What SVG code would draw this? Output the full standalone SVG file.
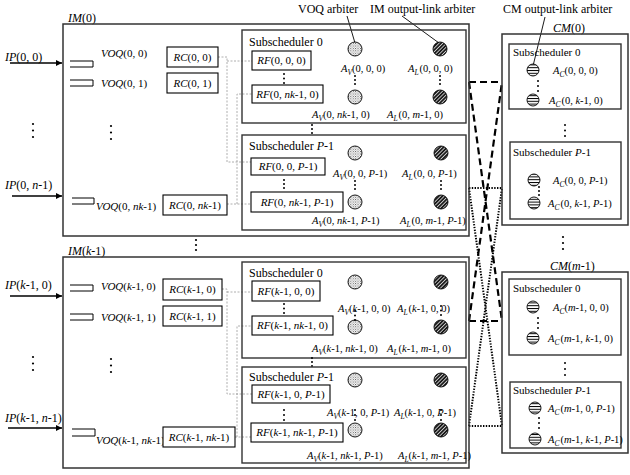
<svg xmlns="http://www.w3.org/2000/svg" width="630" height="475" viewBox="0 0 630 475">
<defs>
<style>
.t{font-family:"Liberation Serif",serif;font-size:12px;fill:#000}
.m{font-size:11px}
.a{font-size:10.5px}
.i{font-style:italic}
.sb{font-size:7.5px;font-style:italic}
.b{fill:none;stroke:#333;stroke-width:1.5}
.s{fill:none;stroke:#333;stroke-width:1.4}
.r{fill:#fff;stroke:#000;stroke-width:1.1}
.q{fill:none;stroke:#000;stroke-width:1}
.g{fill:none;stroke:#9a9a9a;stroke-width:0.8;stroke-dasharray:2 1.5}
.dash{fill:none;stroke:#000;stroke-width:2.2;stroke-dasharray:7 4}
.dot{fill:none;stroke:#000;stroke-width:2;stroke-dasharray:1.4 1.4}
.ar{stroke:#000;stroke-width:1.3}
.ld{stroke:#000;stroke-width:0.9}
.av{fill:url(#stip);stroke:#000;stroke-width:0.9}
.al{fill:url(#hatch);stroke:#000;stroke-width:0.9}
.ac{fill:url(#hstr);stroke:#000;stroke-width:0.9}
.e{fill:#000}
</style>
<pattern id="stip" width="2.4" height="2.4" patternUnits="userSpaceOnUse"><rect width="2.4" height="2.4" fill="#fff"/><rect width="0.9" height="0.9" fill="#444"/><rect x="1.2" y="1.2" width="0.9" height="0.9" fill="#777"/></pattern>
<pattern id="hatch" width="2.6" height="2.6" patternUnits="userSpaceOnUse" patternTransform="rotate(45)"><rect width="2.6" height="2.6" fill="#1a1a1a"/><rect width="0.8" height="2.6" fill="#ddd"/></pattern>
<pattern id="hstr" width="4" height="2.8" patternUnits="userSpaceOnUse"><rect width="4" height="2.8" fill="#fff"/><rect y="0" width="4" height="1" fill="#000"/></pattern>
<marker id="arr" viewBox="0 0 10 10" refX="10" refY="5" markerWidth="7" markerHeight="6" orient="auto" markerUnits="userSpaceOnUse"><path d="M0,0 L10,5 L0,10 z" fill="#000"/></marker>
</defs>
<rect width="630" height="475" fill="#fff"/>

<!-- top labels -->
<g id="labels">
<text class="t" x="298" y="13">VOQ arbiter</text>
<text class="t" x="370" y="13">IM output-link arbiter</text>
<text class="t" x="503" y="13">CM output-link arbiter</text>
<line class="ld" x1="347" y1="16" x2="355" y2="43"/>
<line class="ld" x1="402" y1="16" x2="439" y2="43"/>
<line class="ld" x1="545" y1="17" x2="533" y2="66"/>
</g>

<!-- connectors -->
<g id="connectors">
<line class="ar" x1="10" y1="63" x2="62" y2="63" marker-end="url(#arr)"/>
<line class="ar" x1="12" y1="196" x2="62" y2="196" marker-end="url(#arr)"/>
<line class="ar" x1="10" y1="296" x2="62" y2="296" marker-end="url(#arr)"/>
<line class="ar" x1="8" y1="428" x2="62" y2="428" marker-end="url(#arr)"/>
<path class="g" d="M218,57 H227 V162 H252 M227,61 H252"/>
<path class="g" d="M227,204 H251 M237,204 V94 H252"/>
<path class="g" d="M222,289 H227 V394 H252 M227,292 H252"/>
<path class="g" d="M235,437 H251 M237,437 V326 H252"/>
<path class="dash" d="M469,82 H502 M469,321 H502 M469,82 L502,321 M469,321 L502,82"/>
<path class="dot" d="M469,188 H502 M469,426 H502 M469,188 L502,426 M469,426 L502,188"/>
</g>

<!-- IM(0) -->
<g id="im0">
<text class="t" x="68" y="22"><tspan class="i">IM</tspan>(0)</text>
<rect class="b" x="63" y="24" width="406" height="212"/>
<text class="t" x="5" y="61"><tspan class="i">IP</tspan>(0, 0)</text>
<text class="t" x="5" y="189"><tspan class="i">IP</tspan>(0, <tspan class="i">n</tspan>-1)</text>
<path class="q" d="M70,61 H93 V67 H70"/>
<text class="t m" x="101" y="57"><tspan class="i">VOQ</tspan>(0, 0)</text>
<path class="q" d="M70,80 H93 V86 H70"/>
<text class="t m" x="101" y="87"><tspan class="i">VOQ</tspan>(0, 1)</text>
<path class="q" d="M72,198 H94 V204 H72"/>
<text class="t m" x="96" y="210"><tspan class="i">VOQ</tspan>(0, <tspan class="i">nk</tspan>-1)</text>
<rect class="r" x="167" y="47" width="51" height="20"/>
<text class="t m" x="192.5" y="61" text-anchor="middle"><tspan class="i">RC</tspan>(0, 0)</text>
<rect class="r" x="167" y="73" width="51" height="20"/>
<text class="t m" x="192.5" y="87" text-anchor="middle"><tspan class="i">RC</tspan>(0, 1)</text>
<rect class="r" x="163" y="195" width="64" height="20"/>
<text class="t m" x="195" y="209" text-anchor="middle"><tspan class="i">RC</tspan>(0, <tspan class="i">nk</tspan>-1)</text>
<circle class="e" cx="33" cy="124" r="1.1"/><circle class="e" cx="33" cy="130.5" r="1.1"/><circle class="e" cx="33" cy="137" r="1.1"/>
<circle class="e" cx="111" cy="126" r="1.1"/><circle class="e" cx="111" cy="132.5" r="1.1"/><circle class="e" cx="111" cy="139" r="1.1"/>
</g>
<g id="im0-sub0">
<rect class="s" x="242" y="30" width="224" height="93"/>
<text class="t" x="249" y="46">Subscheduler 0</text>
<rect class="r" x="252" y="51" width="59" height="19"/>
<text class="t m" x="281.5" y="64" text-anchor="middle"><tspan class="i">RF</tspan>(0, 0, 0)</text>
<rect class="r" x="252" y="85" width="71" height="18"/>
<text class="t m" x="287.5" y="98" text-anchor="middle"><tspan class="i">RF</tspan>(0, <tspan class="i">nk</tspan>-1, 0)</text>
<circle class="e" cx="284" cy="74" r="1"/><circle class="e" cx="284" cy="78.5" r="1"/><circle class="e" cx="284" cy="83" r="1"/>
<circle class="av" cx="355" cy="49" r="7"/><circle class="av" cx="355" cy="97" r="7"/>
<circle class="al" cx="440" cy="49" r="7"/><circle class="al" cx="440" cy="97" r="7"/>
<text class="t a" x="341" y="72"><tspan class="i">A</tspan><tspan class="sb" dy="2.5">V</tspan><tspan dy="-2.5">(0, 0, 0)</tspan></text>
<text class="t a" x="408" y="72"><tspan class="i">A</tspan><tspan class="sb" dy="2.5">L</tspan><tspan dx="1" dy="-2.5">(0, 0, 0)</tspan></text>
<circle class="e" cx="355" cy="76" r="1"/><circle class="e" cx="355" cy="80" r="1"/><circle class="e" cx="355" cy="84" r="1"/>
<circle class="e" cx="440" cy="76" r="1"/><circle class="e" cx="440" cy="80" r="1"/><circle class="e" cx="440" cy="84" r="1"/>
<text class="t a" x="312" y="118"><tspan class="i">A</tspan><tspan class="sb" dy="2.5">V</tspan><tspan dy="-2.5">(0, </tspan><tspan class="i">nk</tspan>-1, 0)</text>
<text class="t a" x="387" y="118"><tspan class="i">A</tspan><tspan class="sb" dy="2.5">L</tspan><tspan dx="1" dy="-2.5">(0, </tspan><tspan class="i">m</tspan>-1, 0)</text>
</g>
<g id="im0-dots">
<circle class="e" cx="312" cy="125" r="1"/><circle class="e" cx="312" cy="129" r="1"/><circle class="e" cx="312" cy="133" r="1"/>
</g>
<g id="im0-subP">
<rect class="s" x="242" y="135" width="224" height="95"/>
<text class="t" x="249" y="150">Subscheduler <tspan class="i">P</tspan>-1</text>
<rect class="r" x="251" y="158" width="74" height="17"/>
<text class="t m" x="288" y="170" text-anchor="middle"><tspan class="i">RF</tspan>(0, 0, <tspan class="i">P</tspan>-1)</text>
<rect class="r" x="251" y="192" width="92" height="20"/>
<text class="t m" x="297" y="206" text-anchor="middle"><tspan class="i">RF</tspan>(0, <tspan class="i">nk</tspan>-1, <tspan class="i">P</tspan>-1)</text>
<circle class="e" cx="284" cy="180" r="1"/><circle class="e" cx="284" cy="184" r="1"/><circle class="e" cx="284" cy="188" r="1"/>
<circle class="av" cx="355" cy="153" r="7"/><circle class="av" cx="355" cy="202" r="7"/>
<circle class="al" cx="441" cy="153" r="7"/><circle class="al" cx="441" cy="202" r="7"/>
<text class="t a" x="333" y="177"><tspan class="i">A</tspan><tspan class="sb" dy="2.5">V</tspan><tspan dy="-2.5">(0, 0, </tspan><tspan class="i">P</tspan>-1)</text>
<text class="t a" x="402" y="177"><tspan class="i">A</tspan><tspan class="sb" dy="2.5">L</tspan><tspan dx="1" dy="-2.5">(0, 0, </tspan><tspan class="i">P</tspan>-1)</text>
<circle class="e" cx="355" cy="181" r="1"/><circle class="e" cx="355" cy="185" r="1"/><circle class="e" cx="355" cy="189" r="1"/>
<circle class="e" cx="441" cy="181" r="1"/><circle class="e" cx="441" cy="185" r="1"/><circle class="e" cx="441" cy="189" r="1"/>
<text class="t a" x="312" y="224"><tspan class="i">A</tspan><tspan class="sb" dy="2.5">V</tspan><tspan dy="-2.5">(0, </tspan><tspan class="i">nk</tspan>-1, <tspan class="i">P</tspan>-1)</text>
<text class="t a" x="400" y="224"><tspan class="i">A</tspan><tspan class="sb" dy="2.5">L</tspan><tspan dx="1" dy="-2.5">(0, </tspan><tspan class="i">m</tspan>-1, <tspan class="i">P</tspan>-1)</text>
</g>

<g id="im-gap">
<circle class="e" cx="196" cy="240" r="1.1"/><circle class="e" cx="196" cy="245" r="1.1"/><circle class="e" cx="196" cy="250" r="1.1"/>
</g>

<!-- IM(k-1) -->
<g id="imk">
<text class="t" x="68" y="255"><tspan class="i">IM</tspan>(<tspan class="i">k</tspan>-1)</text>
<rect class="b" x="63" y="257" width="406" height="211"/>
<text class="t" x="5" y="289"><tspan class="i">IP</tspan>(<tspan class="i">k</tspan>-1, 0)</text>
<text class="t" x="5" y="422"><tspan class="i">IP</tspan>(<tspan class="i">k</tspan>-1, <tspan class="i">n</tspan>-1)</text>
<path class="q" d="M70,285 H93 V291 H70"/>
<text class="t m" x="101" y="290"><tspan class="i">VOQ</tspan>(<tspan class="i">k</tspan>-1, 0)</text>
<path class="q" d="M70,314 H93 V320 H70"/>
<text class="t m" x="101" y="321"><tspan class="i">VOQ</tspan>(<tspan class="i">k</tspan>-1, 1)</text>
<path class="q" d="M72,429 H95 V436 H72"/>
<text class="t m" x="96" y="444"><tspan class="i">VOQ</tspan>(<tspan class="i">k</tspan>-1, <tspan class="i">nk</tspan>-1)</text>
<rect class="r" x="163" y="279" width="59" height="21"/>
<text class="t m" x="192.5" y="293" text-anchor="middle"><tspan class="i">RC</tspan>(<tspan class="i">k</tspan>-1, 0)</text>
<rect class="r" x="163" y="306" width="59" height="20"/>
<text class="t m" x="192.5" y="320" text-anchor="middle"><tspan class="i">RC</tspan>(<tspan class="i">k</tspan>-1, 1)</text>
<rect class="r" x="163" y="427" width="72" height="20"/>
<text class="t m" x="199" y="441" text-anchor="middle"><tspan class="i">RC</tspan>(<tspan class="i">k</tspan>-1, <tspan class="i">nk</tspan>-1)</text>
<circle class="e" cx="33" cy="357" r="1.1"/><circle class="e" cx="33" cy="363.5" r="1.1"/><circle class="e" cx="33" cy="370" r="1.1"/>
<circle class="e" cx="111" cy="359" r="1.1"/><circle class="e" cx="111" cy="365.5" r="1.1"/><circle class="e" cx="111" cy="372" r="1.1"/>
</g>
<g id="imk-sub0">
<rect class="s" x="242" y="262" width="224" height="96"/>
<text class="t" x="249" y="277">Subscheduler 0</text>
<rect class="r" x="252" y="281" width="68" height="20"/>
<text class="t m" x="286" y="295" text-anchor="middle"><tspan class="i">RF</tspan>(<tspan class="i">k</tspan>-1, 0, 0)</text>
<rect class="r" x="252" y="316" width="81" height="19"/>
<text class="t m" x="292.5" y="329" text-anchor="middle"><tspan class="i">RF</tspan>(<tspan class="i">k</tspan>-1, <tspan class="i">nk</tspan>-1, 0)</text>
<circle class="e" cx="284" cy="304" r="1"/><circle class="e" cx="284" cy="308.5" r="1"/><circle class="e" cx="284" cy="313" r="1"/>
<circle class="av" cx="355" cy="282" r="7"/><circle class="av" cx="355" cy="327" r="7"/>
<circle class="al" cx="441" cy="282" r="7"/><circle class="al" cx="441" cy="327" r="7"/>
<text class="t a" x="338" y="312"><tspan class="i">A</tspan><tspan class="sb" dy="2.5">V</tspan><tspan dy="-2.5">(</tspan><tspan class="i">k</tspan>-1, 0, 0)</text>
<text class="t a" x="397" y="312"><tspan class="i">A</tspan><tspan class="sb" dy="2.5">L</tspan><tspan dx="1" dy="-2.5">(</tspan><tspan class="i">k</tspan>-1, 0, 0)</text>
<circle class="e" cx="355" cy="311" r="1"/><circle class="e" cx="355" cy="315.5" r="1"/><circle class="e" cx="355" cy="320" r="1"/>
<circle class="e" cx="441" cy="306" r="1"/><circle class="e" cx="441" cy="310.5" r="1"/><circle class="e" cx="441" cy="315" r="1"/>
<text class="t a" x="312" y="352"><tspan class="i">A</tspan><tspan class="sb" dy="2.5">V</tspan><tspan dy="-2.5">(</tspan><tspan class="i">k</tspan>-1, <tspan class="i">nk</tspan>-1, 0)</text>
<text class="t a" x="387" y="352"><tspan class="i">A</tspan><tspan class="sb" dy="2.5">L</tspan><tspan dx="1" dy="-2.5">(</tspan><tspan class="i">k</tspan>-1, <tspan class="i">m</tspan>-1, 0)</text>
</g>
<g id="imk-dots">
<circle class="e" cx="312" cy="358" r="1"/><circle class="e" cx="312" cy="362" r="1"/><circle class="e" cx="312" cy="366" r="1"/>
</g>
<g id="imk-subP">
<rect class="s" x="242" y="367" width="224" height="96"/>
<text class="t" x="249" y="381">Subscheduler <tspan class="i">P</tspan>-1</text>
<rect class="r" x="252" y="385" width="78" height="18"/>
<text class="t m" x="291" y="398" text-anchor="middle"><tspan class="i">RF</tspan>(<tspan class="i">k</tspan>-1, 0, <tspan class="i">P</tspan>-1)</text>
<rect class="r" x="251" y="423" width="92" height="19"/>
<text class="t m" x="297" y="436" text-anchor="middle"><tspan class="i">RF</tspan>(<tspan class="i">k</tspan>-1, <tspan class="i">nk</tspan>-1, <tspan class="i">P</tspan>-1)</text>
<circle class="e" cx="284" cy="410" r="1"/><circle class="e" cx="284" cy="415" r="1"/><circle class="e" cx="284" cy="420" r="1"/>
<circle class="av" cx="355" cy="380" r="7"/><circle class="av" cx="355" cy="430" r="7"/>
<circle class="al" cx="441" cy="380" r="7"/><circle class="al" cx="441" cy="430" r="7"/>
<text class="t a" x="327" y="416"><tspan class="i">A</tspan><tspan class="sb" dy="2.5">V</tspan><tspan dy="-2.5">(</tspan><tspan class="i">k</tspan>-1, 0, <tspan class="i">P</tspan>-1)</text>
<text class="t a" x="394" y="416"><tspan class="i">A</tspan><tspan class="sb" dy="2.5">L</tspan><tspan dy="-2.5">(</tspan><tspan class="i">k</tspan>-1, 0, <tspan class="i">P</tspan>-1)</text>
<circle class="e" cx="355" cy="410" r="1"/><circle class="e" cx="355" cy="415" r="1"/><circle class="e" cx="355" cy="420" r="1"/>
<circle class="e" cx="441" cy="410" r="1"/><circle class="e" cx="441" cy="415" r="1"/><circle class="e" cx="441" cy="420" r="1"/>
<text class="t a" x="307" y="459"><tspan class="i">A</tspan><tspan class="sb" dy="2.5">V</tspan><tspan dy="-2.5">(</tspan><tspan class="i">k</tspan>-1, <tspan class="i">nk</tspan>-1, <tspan class="i">P</tspan>-1)</text>
<text class="t a" x="398" y="459"><tspan class="i">A</tspan><tspan class="sb" dy="2.5">L</tspan><tspan dy="-2.5">(</tspan><tspan class="i">k</tspan>-1, <tspan class="i">m</tspan>-1, <tspan class="i">P</tspan>-1)</text>
</g>

<!-- CM(0) -->
<g id="cm0">
<text class="t" x="553" y="32"><tspan class="i">CM</tspan>(0)</text>
<rect class="b" x="502" y="34" width="126" height="191"/>
<circle class="e" cx="565" cy="125" r="1"/><circle class="e" cx="565" cy="130.5" r="1"/><circle class="e" cx="565" cy="136" r="1"/>
</g>
<g id="cm0-sub0">
<rect class="s" x="509" y="44" width="112" height="65"/>
<text class="t m" x="513" y="56">Subscheduler 0</text>
<circle class="ac" cx="533" cy="70" r="6"/><circle class="ac" cx="533" cy="100" r="6"/>
<circle class="e" cx="538" cy="81" r="1"/><circle class="e" cx="538" cy="86" r="1"/><circle class="e" cx="538" cy="91" r="1"/>
<text class="t a" x="553" y="74"><tspan class="i">A</tspan><tspan class="sb" dy="2.5">C</tspan><tspan dy="-2.5">(0, 0, 0)</tspan></text>
<text class="t a" x="549" y="104"><tspan class="i">A</tspan><tspan class="sb" dy="2.5">C</tspan><tspan dx="1" dy="-2.5">(0, </tspan><tspan class="i">k</tspan>-1, 0)</text>
</g>
<g id="cm0-subP">
<rect class="s" x="510" y="142" width="111" height="77"/>
<text class="t m" x="513" y="156">Subscheduler <tspan class="i">P</tspan>-1</text>
<circle class="ac" cx="534" cy="180" r="6"/><circle class="ac" cx="534" cy="203" r="6"/>
<circle class="e" cx="539" cy="187" r="1"/><circle class="e" cx="539" cy="191" r="1"/><circle class="e" cx="539" cy="195" r="1"/>
<text class="t a" x="553" y="184"><tspan class="i">A</tspan><tspan class="sb" dy="2.5">C</tspan><tspan dy="-2.5">(0, 0, </tspan><tspan class="i">P</tspan>-1)</text>
<text class="t a" x="548" y="207"><tspan class="i">A</tspan><tspan class="sb" dy="2.5">C</tspan><tspan dx="1" dy="-2.5">(0, </tspan><tspan class="i">k</tspan>-1, <tspan class="i">P</tspan>-1)</text>
</g>

<g id="cm-gap">
<circle class="e" cx="563" cy="237" r="1.1"/><circle class="e" cx="563" cy="243" r="1.1"/><circle class="e" cx="563" cy="249" r="1.1"/>
</g>

<!-- CM(m-1) -->
<g id="cmm">
<text class="t" x="550" y="270"><tspan class="i">CM</tspan>(<tspan class="i">m</tspan>-1)</text>
<rect class="b" x="502" y="272" width="126" height="181"/>
<circle class="e" cx="565" cy="363" r="1"/><circle class="e" cx="565" cy="369" r="1"/><circle class="e" cx="565" cy="375" r="1"/>
</g>
<g id="cmm-sub0">
<rect class="s" x="509" y="279" width="112" height="76"/>
<text class="t m" x="513" y="292">Subscheduler 0</text>
<circle class="ac" cx="533" cy="307" r="6"/><circle class="ac" cx="533" cy="338" r="6"/>
<circle class="e" cx="538" cy="318" r="1"/><circle class="e" cx="538" cy="323" r="1"/><circle class="e" cx="538" cy="328" r="1"/>
<text class="t a" x="553" y="311"><tspan class="i">A</tspan><tspan class="sb" dy="2.5">C</tspan><tspan dy="-2.5">(</tspan><tspan class="i">m</tspan>-1, 0, 0)</text>
<text class="t a" x="548" y="342"><tspan class="i">A</tspan><tspan class="sb" dy="2.5">C</tspan><tspan dx="1" dy="-2.5">(</tspan><tspan class="i">m</tspan>-1, <tspan class="i">k</tspan>-1, 0)</text>
</g>
<g id="cmm-subP">
<rect class="s" x="510" y="382" width="111" height="66"/>
<text class="t m" x="513" y="394">Subscheduler <tspan class="i">P</tspan>-1</text>
<circle class="ac" cx="535" cy="408" r="6"/><circle class="ac" cx="535" cy="439" r="6"/>
<circle class="e" cx="539" cy="418" r="1"/><circle class="e" cx="539" cy="423" r="1"/><circle class="e" cx="539" cy="428" r="1"/>
<text class="t a" x="548" y="412"><tspan class="i">A</tspan><tspan class="sb" dy="2.5">C</tspan><tspan dx="1" dy="-2.5">(</tspan><tspan class="i">m</tspan>-1, 0, <tspan class="i">P</tspan>-1)</text>
<text class="t a" x="548" y="443"><tspan class="i">A</tspan><tspan class="sb" dy="2.5">C</tspan><tspan dx="1" dy="-2.5">(</tspan><tspan class="i">m</tspan>-1, <tspan class="i">k</tspan>-1, <tspan class="i">P</tspan>-1)</text>
</g>
</svg>
